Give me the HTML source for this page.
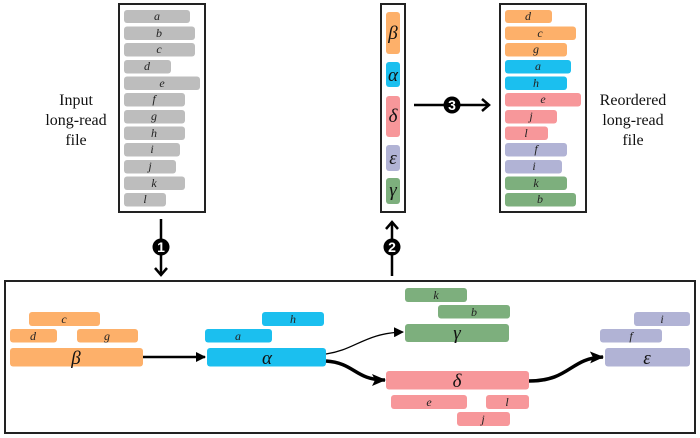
<!DOCTYPE html>
<html><head><meta charset="utf-8"><style>
html,body{margin:0;padding:0;background:#fff}
svg{display:block}
</style></head><body>
<svg width="700" height="438" viewBox="0 0 700 438" xmlns="http://www.w3.org/2000/svg">
<defs>
<marker id="f" markerWidth="10" markerHeight="10" refX="9" refY="5" orient="auto" markerUnits="userSpaceOnUse"><path d="M0,0 L10,5 L0,10 z" fill="#000"/></marker>
<marker id="f2" markerWidth="14" markerHeight="12" refX="13" refY="6" orient="auto" markerUnits="userSpaceOnUse"><path d="M0,0 L14,6 L0,12 L3,6 z" fill="#000"/></marker>
</defs>
<rect x="119" y="4" width="86" height="208" fill="#fff" stroke="#222" stroke-width="2"/>
<g fill="#bdbdbd">
<rect x="124" y="10" width="66" height="13" rx="3"/>
<rect x="124" y="26.5" width="71" height="13.5" rx="3"/>
<rect x="124" y="43" width="71" height="13.5" rx="3"/>
<rect x="124" y="60" width="47" height="13.5" rx="3"/>
<rect x="124" y="76.5" width="76" height="13.5" rx="3"/>
<rect x="124" y="93" width="61" height="13.5" rx="3"/>
<rect x="124" y="110" width="61" height="13.5" rx="3"/>
<rect x="124" y="126.5" width="61" height="13.5" rx="3"/>
<rect x="124" y="143" width="56" height="13.5" rx="3"/>
<rect x="124" y="160" width="52" height="13.5" rx="3"/>
<rect x="124" y="176.5" width="61" height="13.5" rx="3"/>
<rect x="124" y="193" width="42" height="13.5" rx="3"/>
</g>
<rect x="381" y="4" width="24" height="208" fill="#fff" stroke="#222" stroke-width="2"/>
<rect x="386" y="12" width="14" height="42" rx="3" fill="#fdb06a"/>
<rect x="386" y="62" width="14" height="25" rx="3" fill="#1bbfef"/>
<rect x="386" y="96" width="14" height="41" rx="3" fill="#f7979a"/>
<rect x="386" y="145" width="14" height="26" rx="3" fill="#b1b3d5"/>
<rect x="386" y="178" width="14" height="26" rx="3" fill="#7daf7d"/>
<rect x="500" y="4" width="86" height="208" fill="#fff" stroke="#222" stroke-width="2"/>
<rect x="505" y="10" width="47" height="13" rx="3" fill="#fdb06a"/>
<rect x="505" y="26.5" width="71" height="13.5" rx="3" fill="#fdb06a"/>
<rect x="505" y="43" width="62" height="13.5" rx="3" fill="#fdb06a"/>
<rect x="505" y="60" width="66" height="13.5" rx="3" fill="#1bbfef"/>
<rect x="505" y="76.5" width="62" height="13.5" rx="3" fill="#1bbfef"/>
<rect x="505" y="93" width="76" height="13.5" rx="3" fill="#f7979a"/>
<rect x="505" y="110" width="52" height="13.5" rx="3" fill="#f7979a"/>
<rect x="505" y="126.5" width="43" height="13.5" rx="3" fill="#f7979a"/>
<rect x="505" y="143" width="62" height="13.5" rx="3" fill="#b1b3d5"/>
<rect x="505" y="160" width="57" height="13.5" rx="3" fill="#b1b3d5"/>
<rect x="505" y="176.5" width="62" height="13.5" rx="3" fill="#7daf7d"/>
<rect x="505" y="193" width="71" height="13.5" rx="3" fill="#7daf7d"/>
<line x1="414" y1="105" x2="488" y2="105" stroke="#000" stroke-width="2.5"/>
<path d="M482,99 L489,105 L482,111" fill="none" stroke="#000" stroke-width="2.5"/>
<circle cx="452" cy="105" r="8.5" fill="#000"/>
<line x1="161" y1="219" x2="161" y2="275" stroke="#000" stroke-width="2.5"/>
<path d="M155,268 L161,275 L167,268" fill="none" stroke="#000" stroke-width="2.5"/>
<circle cx="161" cy="247" r="8.5" fill="#000"/>
<line x1="392" y1="223" x2="392" y2="276" stroke="#000" stroke-width="2.5"/>
<path d="M386,229 L392,222 L398,229" fill="none" stroke="#000" stroke-width="2.5"/>
<circle cx="392" cy="247" r="8.5" fill="#000"/>
<g font-family="Liberation Sans, sans-serif" font-size="14" font-weight="bold" fill="#fff" text-anchor="middle">
<text x="452" y="110">3</text><text x="161" y="252">1</text><text x="392" y="252">2</text></g>
<rect x="5" y="281" width="690" height="152" fill="#fff" stroke="#222" stroke-width="2"/>
<g fill="#fdb06a">
<rect x="29" y="312" width="71" height="14" rx="3"/><rect x="10" y="329" width="47" height="13.5" rx="3"/>
<rect x="77" y="329" width="61" height="13.5" rx="3"/><rect x="10" y="348" width="133" height="18.5" rx="3"/></g>
<g fill="#1bbfef">
<rect x="262" y="312" width="62" height="14" rx="3"/><rect x="205" y="329" width="67" height="13.5" rx="3"/>
<rect x="207" y="348" width="119" height="18.5" rx="3"/></g>
<g fill="#7daf7d">
<rect x="405" y="288" width="62" height="14" rx="3"/><rect x="438" y="305" width="72" height="13.5" rx="3"/>
<rect x="405" y="324" width="104" height="18" rx="3"/></g>
<g fill="#f7979a">
<rect x="386" y="371" width="143" height="18.5" rx="3"/><rect x="391" y="395" width="76" height="14" rx="3"/>
<rect x="486" y="395" width="43" height="14" rx="3"/><rect x="457" y="412" width="53" height="14" rx="3"/></g>
<g fill="#b1b3d5">
<rect x="634" y="312" width="56" height="14" rx="3"/><rect x="600" y="329" width="62" height="13.5" rx="3"/>
<rect x="605" y="348" width="85" height="18.5" rx="3"/></g>
<line x1="143" y1="357" x2="205" y2="357" stroke="#000" stroke-width="2.5" marker-end="url(#f)"/>
<path d="M326,354 C355,350 365,333 403,332" fill="none" stroke="#000" stroke-width="1.3" marker-end="url(#f)"/>
<path d="M326,361 C355,363 355,380 385,380" fill="none" stroke="#000" stroke-width="3.5" marker-end="url(#f2)"/>
<path d="M529,381 C570,381 570,358 603,357" fill="none" stroke="#000" stroke-width="3.5" marker-end="url(#f2)"/>

<g font-family="Liberation Serif, DejaVu Serif, serif" font-style="italic" font-size="12" fill="#222" text-anchor="middle">
<text x="157" y="20">a</text><text x="159" y="37">b</text><text x="159" y="53">c</text>
<text x="147" y="70">d</text><text x="162" y="87">e</text><text x="154" y="103">f</text>
<text x="154" y="120">g</text><text x="154" y="137">h</text><text x="152" y="153">i</text>
<text x="150" y="170">j</text><text x="154" y="187">k</text><text x="145" y="203">l</text>
<text x="528" y="20">d</text><text x="540" y="37">c</text><text x="536" y="53">g</text>
<text x="538" y="70">a</text><text x="536" y="87">h</text><text x="543" y="103">e</text>
<text x="531" y="120">j</text><text x="526" y="137">l</text><text x="536" y="153">f</text>
<text x="534" y="170">i</text><text x="536" y="187">k</text><text x="540" y="203">b</text>
<text x="64" y="323">c</text><text x="33" y="340">d</text><text x="107" y="340">g</text>
<text x="293" y="323">h</text><text x="238" y="340">a</text>
<text x="436" y="299">k</text><text x="474" y="316">b</text>
<text x="429" y="406">e</text><text x="507" y="406">l</text><text x="483" y="423">j</text>
<text x="662" y="323">i</text><text x="631" y="340">f</text>
</g>
<g font-family="Liberation Serif, DejaVu Serif, serif" font-style="italic" font-size="19" fill="#111" text-anchor="middle">
<text x="393" y="39">β</text><text x="393" y="81">α</text><text x="393" y="122">δ</text>
<text x="393" y="164">ε</text><text x="393" y="196">γ</text>
<text x="76" y="364">β</text><text x="267" y="364">α</text><text x="457" y="339">γ</text>
<text x="457" y="387">δ</text><text x="647" y="364">ε</text>
</g>
<g font-family="Liberation Serif, DejaVu Serif, serif" font-size="16" fill="#111" text-anchor="middle">
<text x="76" y="105">Input</text><text x="76" y="125">long-read</text><text x="76" y="145">file</text>
<text x="633" y="105">Reordered</text><text x="633" y="125">long-read</text><text x="633" y="145">file</text>
</g>
</svg>
</body></html>
